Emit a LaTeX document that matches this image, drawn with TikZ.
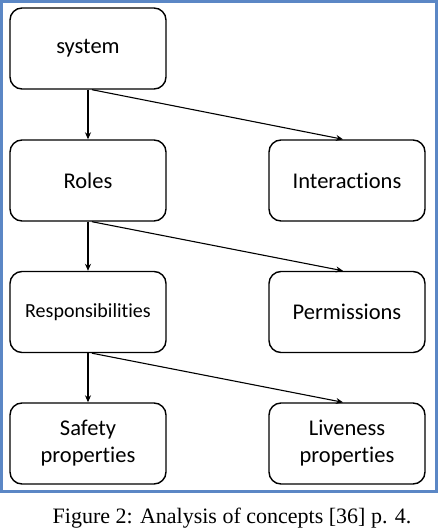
\documentclass[tikz,border=0pt]{standalone}
\usepackage{fontspec}
\setmainfont{Liberation Serif}
\newfontfamily\boxfont[Ligatures=NoCommon]{Carlito}
\usetikzlibrary{arrows.meta}
\definecolor{framecol}{HTML}{5B87C5}
\begin{document}
\begin{tikzpicture}[x=1pt,y=-1pt,
  cbox/.style={draw=black,line width=1.4pt,rounded corners=12pt,minimum width=156pt,minimum height=81pt,font=\boxfont\fontsize{22.5}{27}\selectfont,align=center,inner sep=0pt},
  conn/.style={line width=1.1pt,-{Stealth[length=7pt,width=6pt]}}]
\useasboundingbox (0,0) rectangle (438,532);
\draw[framecol,line width=3pt] (1.5,1.5) rectangle (436.5,491);
\node[cbox] (sys) at (88,48.5) {system};
\node[cbox] (rol) at (88,180.5) {Roles};
\node[cbox] (int) at (347,180.5) {Interactions};
\node[cbox,font=\boxfont\fontsize{20}{24}\selectfont] (res) at (88,312) {Responsibilities};
\node[cbox] (per) at (347,312) {Permissions};
\node[cbox] (saf) at (88,443.5) {Safety\\properties};
\node[cbox] (liv) at (347,443.5) {Liveness\\properties};
\draw[conn] (sys.south) -- (rol.north);
\draw[conn] ([xshift=4pt]sys.south) -- ([xshift=-4pt]int.north);
\draw[conn] (rol.south) -- (res.north);
\draw[conn] ([xshift=4pt]rol.south) -- ([xshift=-4pt]per.north);
\draw[conn] (res.south) -- (saf.north);
\draw[conn] ([xshift=4pt]res.south) -- ([xshift=-4pt]liv.north);
\node[font=\fontsize{22}{24}\selectfont] (cap) at (232,518) {Figure 2: Analysis of concepts [36] p. 4.};
\end{tikzpicture}
\end{document}
